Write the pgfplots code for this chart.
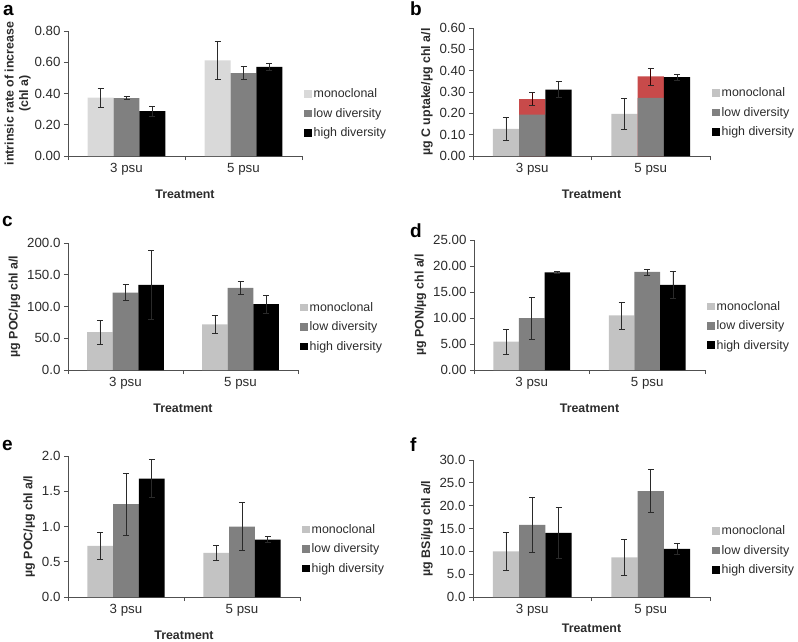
\documentclass[border=0pt]{standalone}
\usepackage{pgfplots}
\pgfplotsset{compat=1.18}
\usepackage{fontspec}
\setmainfont{Liberation Sans}

\definecolor{monoA}{HTML}{D9D9D9}
\definecolor{mono}{HTML}{C3C3C3}
\definecolor{low}{HTML}{808080}
\definecolor{high}{HTML}{000000}
\definecolor{uptake}{HTML}{C84A4A}
\definecolor{axgray}{HTML}{505050}
\definecolor{txt}{HTML}{2B2B2B}
\definecolor{errc}{HTML}{2A2A2A}

\newcommand{\tck}{\fontsize{13.3}{15}\selectfont}
\newcommand{\lab}{\fontsize{12.4}{14.5}\selectfont}

\pgfplotsset{
  panel/.style={
    scale only axis,
    ybar,
    xmin=-0.5, xmax=1.5, ymin=0,
    axis x line*=bottom, axis y line*=left,
    axis line style={draw=axgray, line width=0.8pt},
    xtick={0,1}, xticklabels={3 psu,5 psu},
    x tick style={draw=none},
    extra x ticks={-0.5,0.5,1.5},
    extra x tick labels={},
    extra x tick style={x tick style={draw=axgray, line width=0.8pt}},
    tick align=outside,
    major tick length=4pt,
    y tick style={draw=axgray, line width=0.8pt},
    ticklabel style={font=\tck, text=txt},
    /pgf/number format/assume math mode=true,
    /pgf/number format/fixed,
    /pgf/number format/fixed zerofill,
    scaled y ticks=false,
    xlabel={Treatment},
    xlabel style={font=\lab\bfseries, text=txt},
    ylabel style={font=\lab\bfseries, text=txt, align=center},
    bar width=0.222,
    legend style={draw=none, fill=none, at={(1,0.34)}, anchor=west,
      font=\lab, text=txt, row sep=5pt, inner xsep=0pt, xshift=2pt},
    legend cell align=left,
    legend image code/.code={\fill[##1] (0pt,-3.8pt) rectangle (7.5pt,3.8pt);},
    error bars/y dir=both,
    error bars/y explicit,
    error bars/error bar style={line width=0.7pt, draw=errc},
    error bars/error mark options={rotate=90, mark size=3pt, line width=0.7pt, draw=errc},
    clip=false,
  },
}

\begin{document}
\begin{tikzpicture}
\useasboundingbox (0pt,0pt) rectangle (798pt,-642pt);

% panel letters
\node[anchor=north west, inner sep=0pt, font=\fontsize{19}{19}\selectfont\bfseries] at (3pt,-5pt) {a};
\node[anchor=north west, inner sep=0pt, font=\fontsize{19}{19}\selectfont\bfseries] at (410pt,-2pt) {b};
\node[anchor=north west, inner sep=0pt, font=\fontsize{19}{19}\selectfont\bfseries] at (2pt,-216pt) {c};
\node[anchor=north west, inner sep=0pt, font=\fontsize{19}{19}\selectfont\bfseries] at (410pt,-224pt) {d};
\node[anchor=north west, inner sep=0pt, font=\fontsize{19}{19}\selectfont\bfseries] at (2pt,-440pt) {e};
\node[anchor=north west, inner sep=0pt, font=\fontsize{19}{19}\selectfont\bfseries] at (410pt,-438pt) {f};

% a
\begin{axis}[panel, at={(68pt,-156pt)}, anchor=south west, width=234pt, height=125pt,
  ymax=0.8, ytick={0,0.2,0.4,0.6,0.8}, /pgf/number format/precision=2,
  ylabel={intrinsic rate of increase\\(chl a)}, ylabel shift=-3pt]
\addplot[fill=monoA, draw=none, bar shift=0pt] coordinates {(-0.222,0.373) +- (0,0.063) (0.778,0.612) +- (0,0.122)};
\addplot[fill=low, draw=none, bar shift=0pt] coordinates {(0,0.370) +- (0,0.010) (1,0.531) +- (0,0.040)};
\addplot[fill=high, draw=none, bar shift=0pt] coordinates {(0.222,0.288) +- (0,0.032) (1.222,0.571) +- (0,0.025)};
\legend{monoclonal,low diversity,high diversity}
\end{axis}

% b
\begin{axis}[panel, at={(473pt,-156pt)}, anchor=south west, width=237pt, height=128pt,
  ymax=0.6, ytick={0,0.1,0.2,0.3,0.4,0.5,0.6}, /pgf/number format/precision=2,
  ylabel={µg C uptake/µg chl a/l}]
\addplot[fill=mono, draw=none, bar shift=0pt] coordinates {(-0.222,0.127) +- (0,0.053) (0.778,0.198) +- (0,0.071)};
\addplot[fill=uptake, draw=none, bar shift=0pt, forget plot,
  error bars/error bar style={draw=black!60!red!60!black}] coordinates {(0,0.267) +- (0,0.031) (1,0.373) +- (0,0.040)};
\addplot[fill=low, draw=none, bar shift=0pt, error bars/y dir=none] coordinates {(0,0.194) (1,0.272)};
\addplot[fill=high, draw=none, bar shift=0pt] coordinates {(0.222,0.311) +- (0,0.037) (1.222,0.370) +- (0,0.014)};
\legend{monoclonal,low diversity,high diversity}
\end{axis}

% c
\begin{axis}[panel, at={(68pt,-370pt)}, anchor=south west, width=230pt, height=127pt,
  ymax=200, ytick={0,50,100,150,200}, /pgf/number format/precision=1,
  ylabel={µg POC/µg chl a/l}]
\addplot[fill=mono, draw=none, bar shift=0pt] coordinates {(-0.222,59.5) +- (0,19.3) (0.778,72.0) +- (0,13.7)};
\addplot[fill=low, draw=none, bar shift=0pt] coordinates {(0,122.0) +- (0,12.6) (1,129.5) +- (0,10.2)};
\addplot[fill=high, draw=none, bar shift=0pt] coordinates {(0.222,134.0) +- (0,54.0) (1.222,103.7) +- (0,13.7)};
\legend{monoclonal,low diversity,high diversity}
\end{axis}

% d
\begin{axis}[panel, at={(474pt,-370pt)}, anchor=south west, width=231pt, height=130pt,
  ymax=25, ytick={0,5,10,15,20,25}, /pgf/number format/precision=2,
  ylabel={µg PON/µg chl a/l}]
\addplot[fill=mono, draw=none, bar shift=0pt] coordinates {(-0.222,5.45) +- (0,2.45) (0.778,10.50) +- (0,2.60)};
\addplot[fill=low, draw=none, bar shift=0pt] coordinates {(0,10.00) +- (0,4.05) (1,18.85) +- (0,0.60)};
\addplot[fill=high, draw=none, bar shift=0pt] coordinates {(0.222,18.78) +- (0,0.10) (1.222,16.35) +- (0,2.55)};
\legend{monoclonal,low diversity,high diversity}
\end{axis}

% e
\begin{axis}[panel, at={(68pt,-597pt)}, anchor=south west, width=232pt, height=141pt,
  ymax=2, ytick={0,0.5,1,1.5,2}, /pgf/number format/precision=1,
  ylabel={µg POC/µg chl a/l}]
\addplot[fill=mono, draw=none, bar shift=0pt] coordinates {(-0.222,0.725) +- (0,0.192) (0.778,0.626) +- (0,0.105)};
\addplot[fill=low, draw=none, bar shift=0pt] coordinates {(0,1.317) +- (0,0.440) (1,1.000) +- (0,0.343)};
\addplot[fill=high, draw=none, bar shift=0pt] coordinates {(0.222,1.678) +- (0,0.270) (1.222,0.815) +- (0,0.042)};
\legend{monoclonal,low diversity,high diversity}
\end{axis}

% f
\begin{axis}[panel, at={(473pt,-597pt)}, anchor=south west, width=237pt, height=137pt,
  ymax=30, ytick={0,5,10,15,20,25,30}, /pgf/number format/precision=1,
  ylabel={µg BSi/µg chl a/l}, xlabel style={yshift=7pt}]
\addplot[fill=mono, draw=none, bar shift=0pt] coordinates {(-0.222,10.0) +- (0,4.1) (0.778,8.7) +- (0,3.9)};
\addplot[fill=low, draw=none, bar shift=0pt] coordinates {(0,15.8) +- (0,6.1) (1,23.2) +- (0,4.7)};
\addplot[fill=high, draw=none, bar shift=0pt] coordinates {(0.222,14.05) +- (0,5.6) (1.222,10.54) +- (0,1.1)};
\legend{monoclonal,low diversity,high diversity}
\end{axis}
\end{tikzpicture}
\end{document}
